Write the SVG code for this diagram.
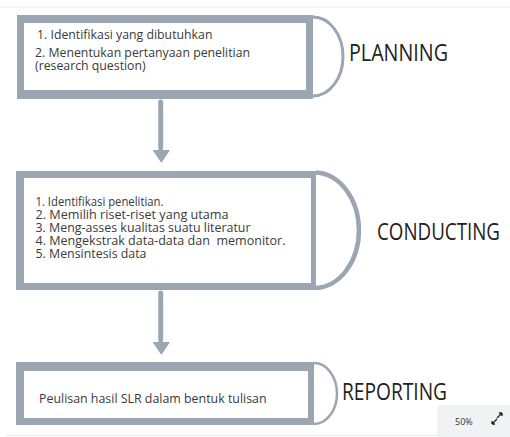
<svg xmlns="http://www.w3.org/2000/svg" width="510" height="437" viewBox="0 0 510 437">
<style>
.frame{fill:#9ba6b2}
.inner{fill:#ffffff}
.arc{fill:none;stroke:#9ba6b2}
.body{font-family:"Open Sans","DejaVu Sans",sans-serif;fill:#3a3a3a}
.head{font-family:"Open Sans","DejaVu Sans",sans-serif;fill:#222222;font-size:23px}
.conn{stroke:#9ba6b2;stroke-width:5;stroke-linecap:round;fill:none}
.tip{fill:#9ba6b2}
</style>
<rect x="0" y="0" width="510" height="437" fill="#ffffff"/>
<line x1="0" y1="7" x2="510" y2="7" stroke="#ebebeb" stroke-width="1"/>
<line x1="6" y1="435.5" x2="510" y2="435.5" stroke="#ebebeb" stroke-width="1"/>

<g id="connectors">
<path class="conn" d="M160.7,102 V148"/>
<path d="M152.7,150 L170,150 L161.3,163 Z" class="tip"/>
<path class="conn" d="M160.7,293 V340"/>
<path d="M152.7,342 L170,342 L161.3,355 Z" class="tip"/>
</g>

<g id="planning">
<rect class="frame" x="17" y="15" width="296" height="84"/>
<rect class="inner" x="24" y="23" width="282" height="67"/>
<path class="arc" stroke-width="3" d="M313,17 A30,39.5 0 0 1 313,96"/>
<text class="body" font-size="12.3"><tspan x="37" y="39">1. Identifikasi yang dibutuhkan</tspan><tspan x="35" y="57">2. Menentukan pertanyaan penelitian</tspan><tspan x="35" y="69.5">(research question)</tspan></text>
<text class="head" x="349" y="61" textLength="99" lengthAdjust="spacingAndGlyphs">PLANNING</text>
</g>

<g id="conducting">
<rect class="frame" x="16" y="171" width="300" height="119"/>
<rect class="inner" x="24" y="178" width="287" height="105"/>
<path class="arc" stroke-width="4.5" d="M316,172.5 A44.8,57.8 0 0 1 316,288"/>
<text class="body" font-size="12" xml:space="preserve"><tspan x="35.5" y="206" textLength="128" lengthAdjust="spacingAndGlyphs">1. Identifikasi penelitian.</tspan><tspan x="35.5" y="219" textLength="193" lengthAdjust="spacingAndGlyphs">2. Memilih riset-riset yang utama</tspan><tspan x="35.5" y="232" textLength="215" lengthAdjust="spacingAndGlyphs">3. Meng-asses kualitas suatu literatur</tspan><tspan x="35.5" y="245" textLength="250" lengthAdjust="spacingAndGlyphs">4. Mengekstrak data-data dan  memonitor.</tspan><tspan x="35.5" y="258" textLength="111" lengthAdjust="spacingAndGlyphs">5. Mensintesis data</tspan></text>
<text class="head" x="377" y="240" textLength="123" lengthAdjust="spacingAndGlyphs">CONDUCTING</text>
</g>

<g id="reporting">
<rect class="frame" x="16" y="362" width="298" height="63"/>
<rect class="inner" x="24" y="371" width="284" height="47"/>
<path class="arc" stroke-width="2.5" d="M314,363 A23,30.5 0 0 1 314,424"/>
<text class="body" font-size="12.4" x="39" y="403">Peulisan hasil SLR dalam bentuk tulisan</text>
<text class="head" x="342" y="400" textLength="105" lengthAdjust="spacingAndGlyphs">REPORTING</text>
</g>

<g id="zoom-widget">
<rect x="437" y="405" width="80" height="40" rx="5" fill="#f1f2f3"/>
<text x="455" y="425" font-family="'Open Sans','DejaVu Sans',sans-serif" font-size="9" fill="#333333">50%</text>
<path d="M492,424 L497,419 M492,424 V421 M492,424 H495 M502,413 L497,418 M502,413 V416 M502,413 H499" stroke="#222222" stroke-width="1.3" fill="none"/>
</g>
</svg>
